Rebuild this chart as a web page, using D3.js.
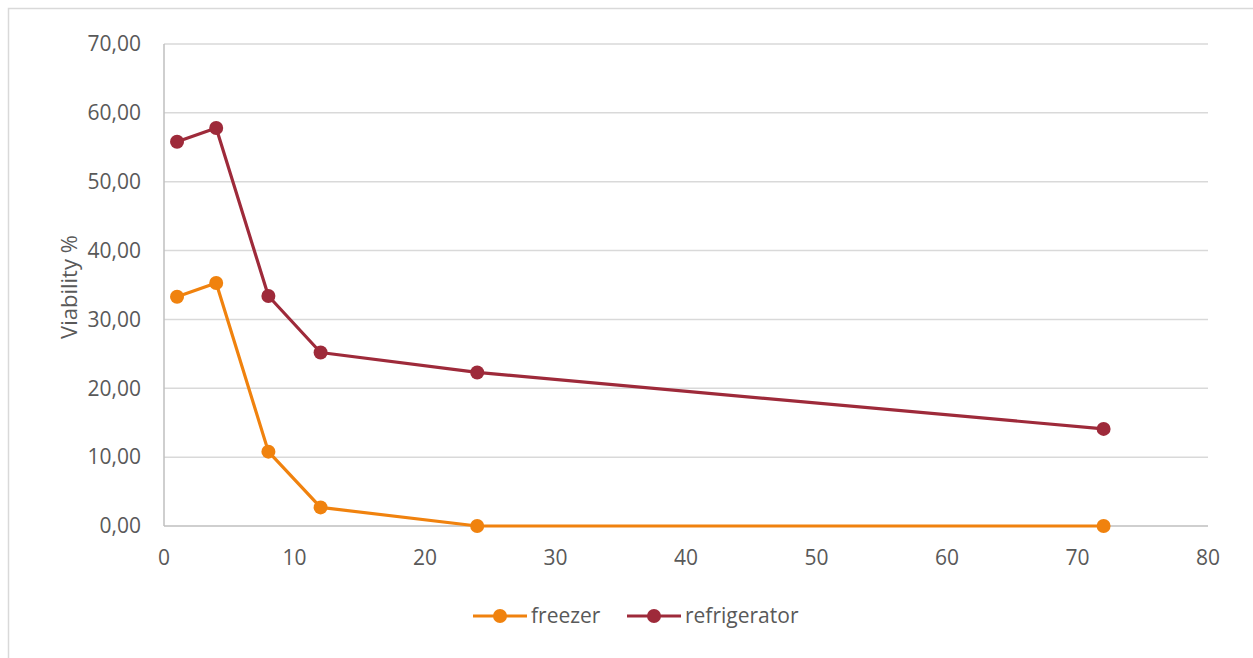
<!DOCTYPE html>
<html>
<head>
<meta charset="utf-8">
<script src="https://cdn.jsdelivr.net/npm/d3@7"></script>
<style>
body { margin: 0; background: #fff; }
text { font-family: "Open Sans", sans-serif; fill: #595959; }
</style>
</head>
<body>
<script>
// data
var hours = [1, 4, 8, 12, 24, 72];
var freezer = [33.3, 35.3, 10.8, 2.7, 0, 0];
var refrigerator = [55.8, 57.8, 33.4, 25.2, 22.3, 14.1];
var yTicks = [0, 10, 20, 30, 40, 50, 60, 70];
var xTicks = [0, 10, 20, 30, 40, 50, 60, 70, 80];

var series = [
    {name: "freezer", values: freezer, color: "#f0820e"},
    {name: "refrigerator", values: refrigerator, color: "#9e2a3a"}
];

var W = 1253, H = 658;
var plot = {l: 164, t: 44, r: 1208, b: 526};

var svg = d3.select("body").append("svg")
    .attr("width", W).attr("height", H);

// chart frame
svg.append("rect")
    .attr("x", 8.5).attr("y", 8.5)
    .attr("width", W + 20).attr("height", H + 20)
    .attr("fill", "none").attr("stroke", "#d9d9d9").attr("stroke-width", 1.5);

var x = d3.scaleLinear().domain([0, 80]).range([plot.l, plot.r]);
var y = d3.scaleLinear().domain([0, 70]).range([plot.b, plot.t]);

// grid
svg.append("g").selectAll("line")
    .data(yTicks.filter(function(d) { return d > 0; }))
    .join("line")
    .attr("x1", plot.l).attr("x2", plot.r)
    .attr("y1", function(d) { return y(d); }).attr("y2", function(d) { return y(d); })
    .attr("stroke", "#d9d9d9").attr("stroke-width", 1.5);

// axes lines
svg.append("line")
    .attr("x1", plot.l).attr("x2", plot.l)
    .attr("y1", plot.t).attr("y2", plot.b)
    .attr("stroke", "#bfbfbf").attr("stroke-width", 1.5);
svg.append("line")
    .attr("x1", plot.l).attr("x2", plot.r)
    .attr("y1", plot.b).attr("y2", plot.b)
    .attr("stroke", "#bfbfbf").attr("stroke-width", 1.5);

// tick labels
var fmt = function(d) { return d3.format(".2f")(d).replace(".", ","); };
svg.append("g").selectAll("text")
    .data(yTicks).join("text")
    .attr("x", 141).attr("y", function(d) { return y(d); })
    .attr("dy", "0.35em")
    .attr("text-anchor", "end")
    .attr("font-size", 21)
    .text(fmt);

svg.append("g").selectAll("text")
    .data(xTicks).join("text")
    .attr("x", function(d) { return x(d); }).attr("y", 558)
    .attr("dy", "0.35em")
    .attr("text-anchor", "middle")
    .attr("font-size", 21)
    .text(function(d) { return d; });

// axis title
svg.append("text")
    .attr("transform", "translate(69,287) rotate(-90)")
    .attr("dy", "0.35em")
    .attr("text-anchor", "middle")
    .attr("font-size", 22)
    .text("Viability %");

// series
var line = d3.line()
    .x(function(d, i) { return x(hours[i]); })
    .y(function(d) { return y(d); });

var sg = svg.append("g").selectAll("g").data(series).join("g");
sg.append("path")
    .attr("d", function(s) { return line(s.values); })
    .attr("fill", "none")
    .attr("stroke", function(s) { return s.color; })
    .attr("stroke-width", 3.2)
    .attr("stroke-linejoin", "round");
sg.selectAll("circle")
    .data(function(s) { return s.values.map(function(v, i) { return {v: v, i: i, c: s.color}; }); })
    .join("circle")
    .attr("cx", function(d) { return x(hours[d.i]); })
    .attr("cy", function(d) { return y(d.v); })
    .attr("r", 7)
    .attr("fill", function(d) { return d.c; });

// legend
var legX = [473, 627];
var lg = svg.append("g").selectAll("g").data(series).join("g")
    .attr("transform", function(s, i) { return "translate(" + legX[i] + ",616)"; });
lg.append("line")
    .attr("x1", 0).attr("x2", 54)
    .attr("stroke", function(s) { return s.color; })
    .attr("stroke-width", 3.2);
lg.append("circle")
    .attr("cx", 27).attr("r", 7)
    .attr("fill", function(s) { return s.color; });
lg.append("text")
    .attr("x", 58).attr("dy", "0.35em")
    .attr("font-size", 21)
    .text(function(s) { return s.name; });
</script>
</body>
</html>
